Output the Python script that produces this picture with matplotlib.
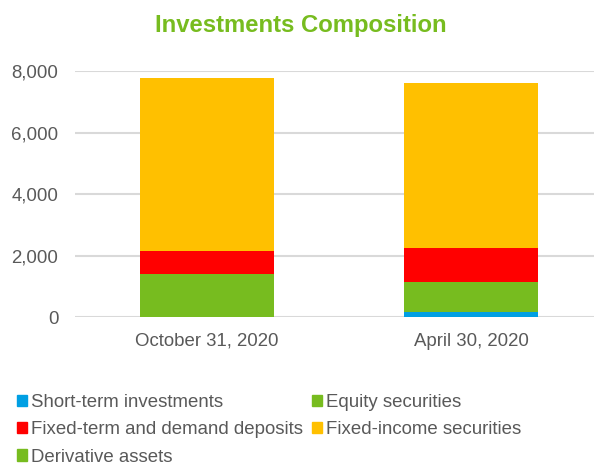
import matplotlib.pyplot as plt
from matplotlib.patches import Patch

# values (millions)
periods = ['October 31, 2020', 'April 30, 2020']
short_term = [20, 162]
equity = [1386, 994]
fixed_term = [737, 1104]
fixed_income = [5627, 5337]
derivative = [10, 10]

series = [
    ('Short-term investments', short_term, '#009FE3'),
    ('Equity securities', equity, '#77BC1F'),
    ('Fixed-term and demand deposits', fixed_term, '#FF0000'),
    ('Fixed-income securities', fixed_income, '#FFC000'),
    ('Derivative assets', derivative, '#77BC1F'),
]

plt.rcParams['font.family'] = ['Liberation Sans', 'DejaVu Sans']
grey = '#595959'


def draw_chart(output_image):
    fig = plt.figure(figsize=(5.94, 4.66), dpi=100)
    ax = fig.add_axes([75 / 594, 0.319, 528 / 594, 0.5285])

    x = list(range(len(periods)))
    bottom = [0] * len(periods)
    for name, vals, color in series:
        ax.bar(x, vals, width=0.51, bottom=bottom, color=color, label=name, zorder=3)
        bottom = [b + v for b, v in zip(bottom, vals)]

    ax.set_xlim(-0.5, 1.5)
    ax.set_ylim(0, 8000)
    ax.set_yticks([0, 2000, 4000, 6000, 8000])
    ax.set_yticklabels(['0', '2,000', '4,000', '6,000', '8,000'])
    ax.set_xticks(x)
    ax.set_xticklabels(periods)
    ax.tick_params(axis='both', length=0, labelsize=13.4, colors=grey)
    ax.tick_params(axis='x', pad=11)
    ax.tick_params(axis='y', pad=12)
    ax.grid(axis='y', color='#D9D9D9', linewidth=1.5, zorder=0)
    for s in ax.spines.values():
        s.set_visible(False)

    fig.text(0.507, 0.945, 'Investments Composition', ha='center', va='center',
             fontsize=17.2, fontweight='bold', color='#77BC1F')

    # legend: column-major order so rows read like the reference
    order = [0, 2, 4, 1, 3]
    handles = [Patch(color=series[i][2]) for i in order]
    labels = [series[i][0] for i in order]
    leg = fig.legend(handles, labels, loc='upper left', bbox_to_anchor=(0.0286, 0.155),
                     ncol=2, frameon=False, fontsize=13.4, handlelength=0.54,
                     handleheight=0.54, handletextpad=0.21, columnspacing=0.5,
                     labelspacing=0.56, borderpad=0, borderaxespad=0)
    for t in leg.get_texts():
        t.set_color(grey)

    plt.savefig(output_image)
    plt.close()


def main():
    draw_chart('out.png')


if __name__ == "__main__":
    main()
